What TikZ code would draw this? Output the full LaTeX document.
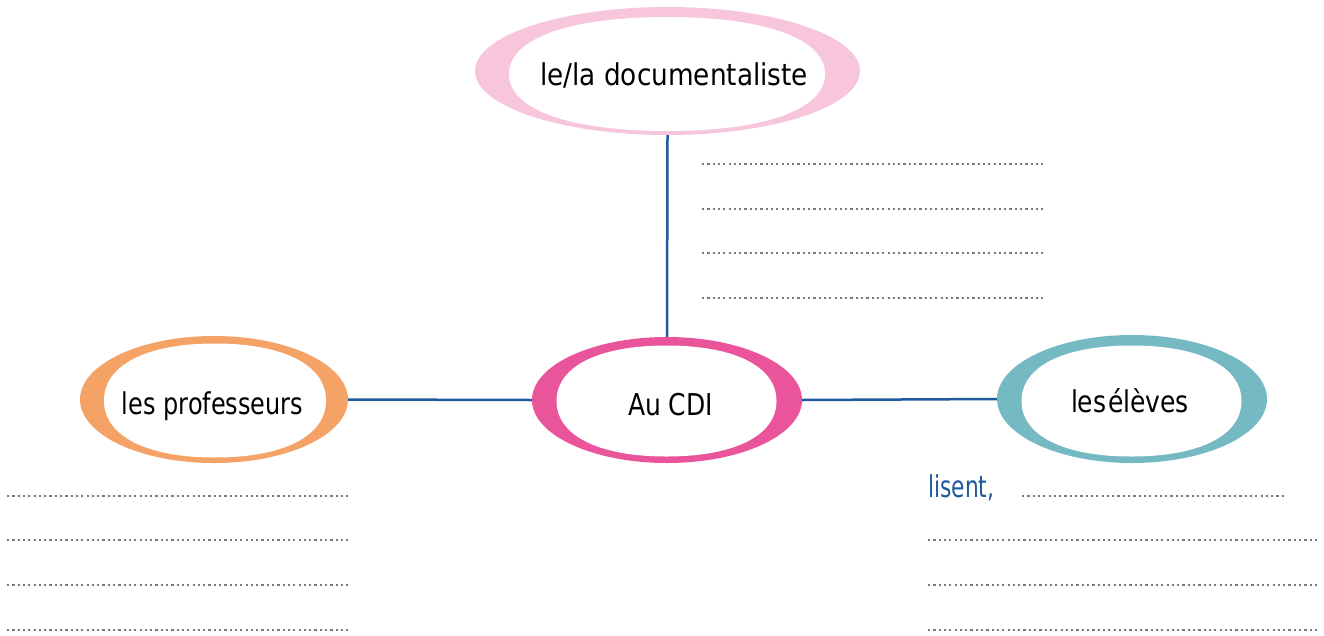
\documentclass[tikz,border=0pt]{standalone}
\usepackage{fontspec}
\usepackage{graphicx}
\setmainfont{DejaVu Sans}
\usetikzlibrary{shapes.geometric}
\definecolor{pinkc}{HTML}{F7C6DD}
\definecolor{orangec}{HTML}{F5A266}
\definecolor{magc}{HTML}{E9549A}
\definecolor{tealc}{HTML}{75B9C3}
\definecolor{linec}{HTML}{1F5A9E}
\definecolor{dotc}{HTML}{7A7A7A}
\newcommand\fitw[2]{\resizebox{#1pt}{\height}{#2}}
\newcommand\whiteblob[4]{%
  \fill[white] (#1+#3,#2) .. controls (#1+#3,#2+0.62*#4) and (#1+0.62*#3,#2+#4) .. (#1,#2+#4)
    .. controls (#1-0.62*#3,#2+#4) and (#1-#3,#2+0.62*#4) .. (#1-#3,#2)
    .. controls (#1-#3,#2-0.62*#4) and (#1-0.62*#3,#2-#4) .. (#1,#2-#4)
    .. controls (#1+0.62*#3,#2-#4) and (#1+#3,#2-0.62*#4) .. (#1+#3,#2) -- cycle;}
\tikzset{
  outerblob/.style={ellipse, inner sep=0pt, fill=#1},
  label/.style={anchor=base, inner sep=0pt, font=\fontsize{30}{34}\selectfont},
  conn/.style={draw=linec, line width=2.5pt},
  dotline/.style={draw=dotc, line width=2.4pt, dash pattern=on 2.2pt off 3.1pt},
}
\begin{document}
\begin{tikzpicture}[x=1pt,y=-1pt]
\useasboundingbox (0,0) rectangle (1324,635);
% blobs
\node[outerblob=pinkc, minimum width=385pt, minimum height=128pt] (doc) at (667.5,71) {};
\whiteblob{667}{74}{158}{57}
\node[label] (doct) at (674,85) {\fitw{268}{le/la documentaliste}};
\node[outerblob=orangec, minimum width=268pt, minimum height=127pt] (prof) at (214,399.5) {};
\whiteblob{215}{400.5}{111}{57}
\node[label] (proft) at (212.5,414) {\fitw{181}{les professeurs}};
\node[outerblob=magc, minimum width=270pt, minimum height=126pt] (cdi) at (667,400) {};
\whiteblob{666.5}{401}{110}{55.5}
\node[label] (cdit) at (670.5,415) {\fitw{85}{Au CDI}};
\node[outerblob=tealc, minimum width=270pt, minimum height=128pt] (elev) at (1132,399) {};
\whiteblob{1131.5}{401}{110}{55.5}
\node[label] (elevt) at (1130,412) {\fitw{118}{les\hspace{2pt}élèves}};
% connectors
\draw[conn] (doc.south) -- (cdi.north);
\draw[conn] (prof.east) -- (cdi.west);
\draw[conn] (cdi.east) -- (elev.west);
% dotted lines
\foreach \y in {164,209,253,298} \draw[dotline] (702,\y) -- (1043,\y);
\foreach \y in {496,540,585,630} \draw[dotline] (7,\y) -- (350,\y);
\node[anchor=base west, inner sep=0pt, text=linec, font=\fontsize{30}{34}\selectfont] (lis) at (928,497) {\fitw{66}{lisent,}};
\draw[dotline] (1022,496) -- (1285,496);
\foreach \y in {540,585,630} \draw[dotline] (928,\y) -- (1317,\y);
\end{tikzpicture}
\end{document}
